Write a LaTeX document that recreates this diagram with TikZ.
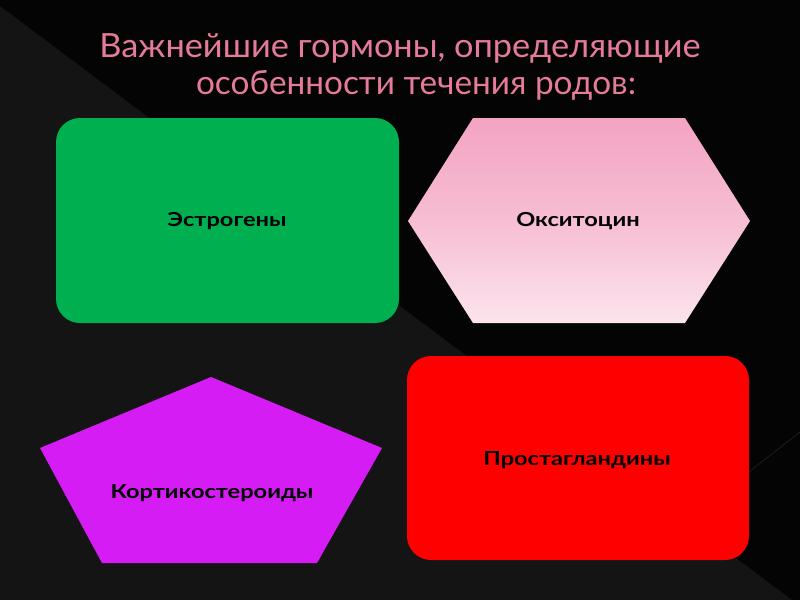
\documentclass[tikz,border=0pt]{standalone}
\usepackage{fontspec}
\setmainfont{Lato}
\definecolor{bgdark}{RGB}{4,4,4}
\definecolor{bggray}{RGB}{20,20,20}
\definecolor{titlepink}{RGB}{230,122,154}
\definecolor{estgreen}{RGB}{0,176,80}
\definecolor{hexpinktop}{RGB}{243,164,194}
\definecolor{hexpinkbot}{RGB}{252,228,237}
\definecolor{pentpurple}{RGB}{213,28,245}
\definecolor{protred}{RGB}{255,0,0}
\tikzset{
  titletext/.style={text=titlepink, font=\fontsize{25}{30}\selectfont, inner sep=0pt, anchor=center},
  labeltext/.style={text=black, font=\fontsize{14.5}{16}\selectfont\bfseries, inner sep=0pt, anchor=center},
  shapefill/.style={draw=none}
}
\begin{document}
\begin{tikzpicture}[x=0.75pt,y=-0.75pt]
\useasboundingbox (0,0) rectangle (800,600);
% background
\fill[bgdark] (0,0) rectangle (800,600);
\fill[bggray] (0,6) -- (800,606) -- (0,606) -- cycle;
\draw[gray!25!black, line width=0.5pt] (745,475) -- (800,432);
% title
\node[titletext] (t1) at (400,48) {\scalebox{1.03}[1]{Важнейшие гормоны, определяющие}};
\node[titletext] (t2) at (416,85) {\scalebox{1.0}[1]{особенности течения родов:}};
% green rounded rectangle
\fill[estgreen, rounded corners=18pt] (56,118) rectangle (399,323);
\node[labeltext] (estro) at (227,221) {\scalebox{1.22}[1]{Эстрогены}};
% pink hexagon
\shade[shapefill, top color=hexpinktop, bottom color=hexpinkbot, middle color=hexpinktop!60!hexpinkbot]
  (473,118) -- (685,118) -- (750,221) -- (685,323) -- (473,323) -- (408,221) -- cycle;
\node[labeltext] (oxy) at (578,221) {\scalebox{1.22}[1]{Окситоцин}};
% purple pentagon
\fill[pentpurple] (211,377) -- (382,448) -- (317,563) -- (102,563) -- (40,448) -- cycle;
\node[labeltext] (cort) at (212,493) {\scalebox{1.22}[1]{Кортикостероиды}};
% red rounded rectangle
\fill[protred, rounded corners=18pt] (407,356) rectangle (749,560);
\node[labeltext] (prost) at (577,460) {\scalebox{1.22}[1]{Простагландины}};
\end{tikzpicture}
\end{document}
